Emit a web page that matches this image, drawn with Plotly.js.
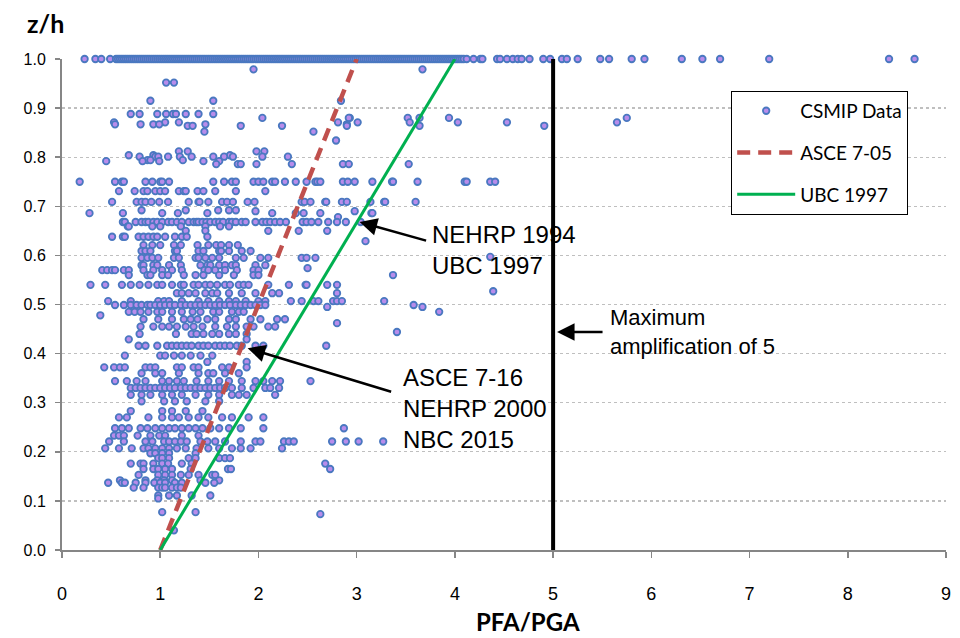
<!DOCTYPE html>
<html>
<head>
<meta charset="utf-8">
<script src="https://cdn.plot.ly/plotly-3.0.1.min.js"></script>
<style>html,body{margin:0;padding:0;background:#fff}#chart{width:960px;height:638px}</style>
</head>
<body>
<div id="chart"></div>
<script>
// z/h levels (rows of recorded floors) and PFA/PGA values read at each level
const zhLevels = [
  1.000, 0.979, 0.952, 0.915, 0.888, 0.880, 0.871, 0.867, 0.864, 0.852, 0.834,
  0.812, 0.804, 0.801, 0.794, 0.792, 0.786, 0.750, 0.731, 0.709, 0.692, 0.690,
  0.686, 0.678, 0.668, 0.659, 0.650, 0.638, 0.629, 0.621, 0.609, 0.597, 0.595,
  0.580, 0.574, 0.570, 0.560, 0.540, 0.527, 0.523, 0.507, 0.499, 0.495, 0.485,
  0.478, 0.470, 0.462, 0.455, 0.444, 0.440, 0.429, 0.416, 0.396, 0.383, 0.372,
  0.360, 0.344, 0.330, 0.316, 0.303, 0.283, 0.270, 0.248, 0.233, 0.221, 0.207,
  0.197, 0.187, 0.176, 0.165, 0.153, 0.142, 0.137, 0.127, 0.111, 0.105, 0.077,
  0.073, 0.040
];
const pfaAtLevel = [
  [0.23,0.34,0.40,0.49,0.55,0.57,0.59,0.61,0.63,0.65,0.67,0.69,0.71,0.73,0.75,0.77,0.79,0.81,0.83,0.85,0.87,0.89,0.91,0.93,0.95,0.97,0.99,1.01,1.03,1.05,1.07,1.09,1.11,1.13,1.15,1.17,1.19,1.21,1.23,1.25,1.27,1.29,1.31,1.33,1.35,1.37,1.39,1.41,1.43,1.45,1.47,1.49,1.51,1.53,1.55,1.57,1.59,1.61,1.63,1.65,1.67,1.69,1.71,1.73,1.75,1.77,1.79,1.81,1.83,1.85,1.87,1.89,1.91,1.93,1.95,1.97,1.99,2.01,2.03,2.05,2.07,2.09,2.11,2.13,2.15,2.17,2.19,2.21,2.23,2.25,2.27,2.29,2.31,2.33,2.35,2.37,2.39,2.41,2.43,2.45,2.47,2.49,2.51,2.53,2.55,2.57,2.59,2.61,2.63,2.65,2.67,2.69,2.71,2.73,2.75,2.77,2.79,2.81,2.83,2.85,2.87,2.89,2.91,2.93,2.95,2.97,2.99,3.01,3.03,3.05,3.07,3.09,3.11,3.13,3.15,3.17,3.19,3.21,3.23,3.25,3.27,3.29,3.31,3.33,3.35,3.37,3.39,3.41,3.43,3.45,3.47,3.49,3.51,3.53,3.55,3.57,3.59,3.61,3.63,3.65,3.67,3.69,3.71,3.73,3.75,3.77,3.79,3.81,3.83,3.85,3.87,3.89,3.91,3.93,3.95,3.97,3.99,4.01,4.03,4.05,4.07,4.09,4.12,4.19,4.26,4.28,4.43,4.46,4.53,4.59,4.64,4.68,4.76,4.90,4.97,5.09,5.14,5.25,5.48,5.57,5.80,5.93,6.31,6.52,6.70,7.20,8.42,8.68],
  [1.95,3.67],
  [1.06,1.14],
  [0.90,1.54,2.84],
  [0.70,0.79,0.97,1.06,1.13,1.16,1.26,1.39,1.54],
  [2.04,2.93,2.92,3.52,3.64,3.94,5.75],
  [0.53,1.05,1.19,2.81,3.01,3.54,4.03,4.53,5.65],
  [0.54,0.80,0.93,0.99,1.46,2.90],
  [1.28,1.33,1.82,2.24,2.90,3.64,4.91],
  [1.45,2.56],
  [2.79],
  [1.19,1.28,1.98,2.06],
  [0.68,0.93,1.71],
  [0.79,0.95,0.98,1.08,1.20,1.32,1.54,1.65,1.74,2.04,2.30],
  [0.87,0.90,1.23],
  [0.45,0.82,0.99,1.44,1.60],
  [1.57,1.79,1.82,1.98,2.34,2.86,2.92,3.53],
  [0.18,0.54,0.61,0.63,0.85,0.92,1.00,1.02,1.09,1.54,1.65,1.73,1.77,1.95,2.00,2.05,2.14,2.17,2.27,2.38,2.49,2.58,2.60,2.63,2.86,2.91,2.98,3.16,3.36,3.37,3.62,4.10,4.12,4.36,4.41],
  [0.58,0.74,0.83,0.87,0.95,1.00,1.05,1.19,1.24,1.26,1.38,1.44,1.56,1.77,2.07],
  [0.51,0.76,0.81,0.85,0.91,0.99,1.08,1.29,1.39,1.40,1.49,1.63,1.68,1.74,1.89,1.96,2.44,2.47,2.53,2.68,2.69,2.85,2.90,3.14,3.28,3.29,3.60],
  [0.81,1.26,1.59,1.70,1.77],
  [1.97,2.98],
  [0.28,0.62,1.02,1.18,1.48,2.14,2.38,2.46,2.63,3.15,3.16],
  [2.81],
  [0.62,0.64,0.75,0.81,0.85,0.88,0.93,0.97,1.02,1.08,1.12,1.17,1.22,1.29,1.34,1.37,1.39,1.43,1.47,1.51,1.56,1.60,1.64,1.70,1.73,1.77,1.83,1.87,1.97,2.04,2.08,2.12,2.17,2.22,2.28,2.45,2.49,2.54,2.61,2.71,2.80,2.89,3.04],
  [0.67,0.68,0.92,1.00,1.21,1.46,1.61,1.70],
  [1.26,1.46,2.10,2.41,2.70],
  [0.51,0.62,0.64,0.78,0.83,0.88,0.93,0.97,1.05,1.15,1.22,1.27,1.48],
  [3.09],
  [0.83,0.92,1.00,1.14,1.21,1.38,1.49,1.57,1.62,1.70,1.79],
  [0.81,0.85,0.90,1.15,1.17,1.39,1.44,1.60,1.62,1.70,1.83,1.92],
  [4.36],
  [0.81,0.87,0.92,0.98,1.14,1.19,1.36,1.39,1.46,1.53,1.60,1.77,1.85,2.02,2.10,2.44,2.49,2.58],
  [0.81,0.83,0.93,0.97,1.09,1.21,1.41,1.48,1.51,1.60,1.66,1.73,1.77,1.97,2.07],
  [2.50],
  [0.41,0.46,0.51,0.54,0.63,0.68,0.83,0.93,1.02,1.12,1.22,1.45,1.49,1.56,1.66,1.78,1.95,2.00],
  [0.68,0.87,0.90,1.02,1.08,1.24,1.36,1.44,1.60,1.75,1.95,2.00,3.37],
  [0.29,0.44,0.61,0.70,0.79,0.88,0.97,1.02,1.12,1.21,1.24,1.34,1.39,1.46,1.51,1.58,1.66,1.71,1.80,1.85,1.90,2.10,2.31,2.48,2.49,2.70,2.80],
  [4.39],
  [1.17,1.22,1.29,1.36,1.46,1.53,1.58,1.70,1.83,1.97,2.14,2.21,2.80],
  [0.47,0.70,0.98,1.04,1.09,1.22,1.39,1.49,1.60,1.70,1.77,1.87,2.00,2.07,2.33,2.44,2.56,2.61,2.76,2.80,2.85,3.28],
  [0.54,0.63,0.70,0.76,0.81,0.87,0.90,0.95,1.00,1.05,1.10,1.15,1.21,1.26,1.31,1.36,1.41,1.46,1.51,1.56,1.61,1.66,1.71,1.77,1.82,1.87,1.92,1.97,2.02,2.07,3.58],
  [2.70,3.67],
  [0.68,0.74,0.80,0.88,0.97,1.02,1.12,1.22,1.33,1.41,1.54,1.60,1.73,1.80,1.85,3.84],
  [0.39],
  [0.83,0.98,1.12,1.24,1.31,1.38,1.48,1.56,1.70,1.77,1.92,2.02,2.19,2.27],
  [2.80],
  [0.80,0.93,1.02,1.09,1.17,1.26,1.34,1.43,1.56,1.68,1.77,1.88,1.95,2.10,2.17],
  [3.41],
  [0.79,1.16,1.32,1.37,1.44,1.53,1.60,1.70,1.77,1.88],
  [0.68,1.88],
  [0.78,0.85,0.97,1.07,1.12,1.17,1.22,1.27,1.32,1.39,1.44,1.49,1.56,1.61,1.66,1.71,1.78,1.83,1.97,2.05,2.69],
  [0.64,1.00,1.05,1.14,1.22,1.31,1.41,1.53],
  [1.48,1.88],
  [0.43,0.53,0.59,0.64,0.85,0.90,0.95,1.17,1.22,1.34,1.39,1.63,1.70,1.88],
  [0.81,0.95,1.02,1.19,1.39,1.49,1.54,1.66,1.80],
  [0.54,0.66,0.76,0.85,1.02,1.09,1.17,1.24,1.37,1.49,1.60,1.70,1.83,1.97,2.05,2.14,2.22,2.53],
  [0.70,0.75,0.80,0.85,0.90,0.95,1.00,1.05,1.10,1.15,1.21,1.26,1.31,1.36,1.41,1.46,1.51,1.56,1.61,1.66,1.73,1.83,1.95,2.07,2.12,2.21],
  [0.70,0.81,0.90,1.02,1.12,1.22,1.36,1.49,1.60,1.73,1.80,1.88,2.17],
  [0.81,1.04,1.15,1.27,1.46,1.60],
  [0.70,1.02,1.12,1.26,1.43],
  [0.58,0.66,0.88,1.02,1.12,1.19,1.29,1.39,1.49,1.63,1.73,1.90,2.05],
  [0.54,0.61,0.68,0.80,0.87,0.95,1.02,1.09,1.15,1.22,1.29,1.36,1.43,1.51,1.60,1.70,1.82,2.05,2.87],
  [0.53,0.58,0.63,0.77,0.90,0.99,1.05,1.22,1.39],
  [0.48,0.63,0.85,0.92,1.04,1.09,1.15,1.21,1.27,1.41,1.48,1.56,1.66,1.82,1.97,2.02,2.26,2.31,2.36,2.75,2.89,3.02,3.27],
  [0.44,0.58,0.71,0.83,0.88,0.95,1.02,1.09,1.17,1.26,1.37,1.49,1.60,1.73,1.82,1.92,2.24],
  [0.90,0.95,1.02,1.09,1.36],
  [0.98,1.02,1.09,1.29,1.36,1.60,1.66,1.71],
  [0.70,0.80,0.83,0.93,1.02,1.08,1.22,1.32,2.68],
  [0.83,0.93,0.98,1.05,1.12,1.31,1.69,1.72,2.73],
  [0.78,0.98,1.05,1.12,1.21,1.29,1.39,1.53,1.56],
  [0.59,0.85,0.97,1.04,1.12,1.41,1.60],
  [0.47,0.61,0.64,0.75,0.85,0.94,1.00,1.05,1.15,1.22,1.46,1.55],
  [0.73,0.83,0.98,1.02,1.05,1.12,1.17,1.21],
  [0.98,1.09,1.17,1.32,1.51],
  [0.98],
  [1.02,1.36],
  [2.63],
  [1.14]
];

// code-based envelopes
const asceX = [1, 3];   const asceZ = [0, 1];   // ASCE 7-05: 1 + 2 z/h
const ubcX  = [1, 4];   const ubcZ  = [0, 1];   // UBC 1997: 1 + 3 z/h
const maxX  = [5, 5];   const maxZ  = [0, 1];   // maximum amplification of 5

const xTicks = [0,1,2,3,4,5,6,7,8,9];

const dataX = [], dataZ = [];
zhLevels.forEach((z, i) => pfaAtLevel[i].forEach(x => { dataX.push(x); dataZ.push(z); }));

const traces = [
  {x: dataX, y: dataZ, type: 'scatter', mode: 'markers', name: 'CSMIP Data',
   legendgroup: 'a', cliponaxis: false,
   marker: {size: 6.5, color: '#B88CEB', line: {color: '#4A78C0', width: 1.8}}},
  {x: asceX, y: asceZ, type: 'scatter', mode: 'lines', name: 'ASCE 7-05', legendgroup: 'b',
   line: {color: '#C0504D', width: 4.5, dash: '13px,8px'}},
  {x: ubcX, y: ubcZ, type: 'scatter', mode: 'lines', name: 'UBC 1997', legendgroup: 'c',
   line: {color: '#00B050', width: 3}},
  {x: maxX, y: maxZ, type: 'scatter', mode: 'lines', showlegend: false, cliponaxis: false,
   line: {color: '#000000', width: 4}}
];

const arrowStyle = {showarrow: true, arrowhead: 2, arrowsize: 1.4, arrowwidth: 2.5,
  arrowcolor: '#000', text: '', standoff: 0, xref: 'x', yref: 'y'};
const textFont = {family: 'Liberation Sans, Arial, sans-serif', size: 24, color: '#000'};

const layout = {
  width: 960, height: 638,
  margin: {l: 62, r: 14, t: 59, b: 88},
  paper_bgcolor: '#fff', plot_bgcolor: '#fff',
  showlegend: true,
  legend: {x: 0.757, y: 0.935, xanchor: 'left', yanchor: 'top',
    bordercolor: '#000', borderwidth: 1, bgcolor: '#fff',
    traceorder: 'grouped', tracegroupgap: 14, itemwidth: 58,
    font: {family: 'Lato, sans-serif', size: 19, color: '#000'}},
  xaxis: {range: [0, 9], tickvals: xTicks, ticktext: xTicks.map(String),
    showline: true, linecolor: '#868686', linewidth: 2,
    ticks: 'outside', ticklen: 6, tickwidth: 1.5, tickcolor: '#868686',
    showgrid: false, zeroline: false, ticklabelstandoff: 20,
    tickfont: {family: 'Liberation Sans Narrow, Liberation Sans, sans-serif', size: 18, color: '#000'}},
  yaxis: {range: [0, 1], dtick: 0.1, tick0: 0, tickformat: '.1f',
    showline: true, linecolor: '#868686', linewidth: 2,
    ticks: 'outside', ticklen: 5, tickwidth: 1.5, tickcolor: '#868686',
    showgrid: true, gridcolor: '#BFBFBF', griddash: 'dot', gridwidth: 1.3,
    zeroline: false, ticklabelstandoff: 6,
    tickfont: {family: 'Liberation Sans, Arial, sans-serif', size: 16, color: '#000'}},
  annotations: [
    {text: '<b>z/h</b>', xref: 'paper', yref: 'paper', x: -0.019, y: 1.073,
     xanchor: 'center', yanchor: 'middle', showarrow: false,
     font: {family: 'Lato, sans-serif', size: 25, color: '#000'}},
    {text: '<b>PFA/PGA</b>', xref: 'paper', yref: 'paper', x: 0.527, y: -0.1466,
     xanchor: 'center', yanchor: 'middle', showarrow: false,
     font: {family: 'Lato, sans-serif', size: 24, color: '#000'}},
    Object.assign({}, arrowStyle, {x: 3.03, y: 0.668, ax: 68, ay: 19}),
    Object.assign({}, arrowStyle, {x: 5.04, y: 0.444, ax: 47, ay: 0}),
    Object.assign({}, arrowStyle, {x: 1.89, y: 0.411, ax: 145, ay: 44}),
    {text: 'NEHRP 1994<br>UBC 1997', x: 3.75, y: 0.611, xanchor: 'left', yanchor: 'middle',
     align: 'left', showarrow: false, font: textFont},
    {text: 'Maximum<br>amplification of 5', x: 5.56, y: 0.444, xanchor: 'left', yanchor: 'middle',
     align: 'left', showarrow: false, font: Object.assign({}, textFont, {size: 22})},
    {text: 'ASCE 7-16<br>NEHRP 2000<br>NBC 2015', x: 3.45, y: 0.289, xanchor: 'left', yanchor: 'middle',
     align: 'left', showarrow: false, font: textFont}
  ]
};

Plotly.newPlot('chart', traces, layout, {displayModeBar: false, staticPlot: true});
</script>
</body>
</html>
